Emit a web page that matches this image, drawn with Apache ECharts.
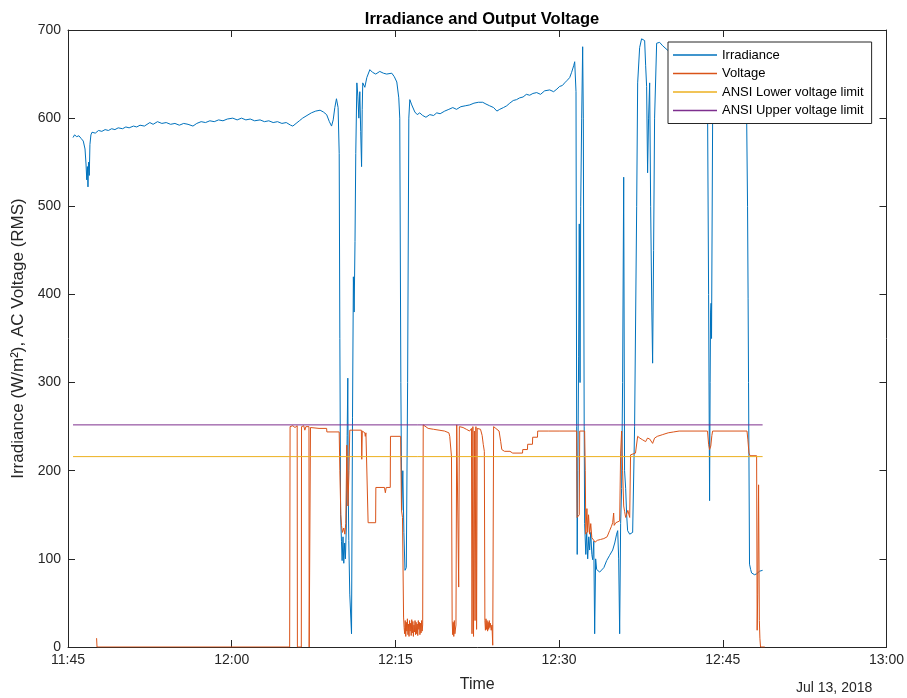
<!DOCTYPE html>
<html>
<head>
<meta charset="utf-8">
<script src="https://cdn.jsdelivr.net/npm/echarts@6/dist/echarts.min.js"></script>
<style>
html,body{margin:0;padding:0;background:#fff;}
#chart{width:907px;height:698px;}
</style>
</head>
<body>
<div id="chart"></div>
<script>
// Minutes after 11:45 (Jul 13, 2018)
const xTickLabels = ['11:45','12:00','12:15','12:30','12:45','13:00'];
const yTicks = [0,100,200,300,400,500,600,700];

const irrMinutes = [
0.46,0.60,0.80,1.00,1.20,1.40,1.56,1.65,1.72,1.78,1.83,1.88,1.95,2.01,2.10,2.20,2.50,2.80,3.10,3.40,
3.70,4.00,4.30,4.60,5.00,5.30,5.60,6.00,6.30,6.60,7.00,7.50,7.80,8.20,8.60,9.00,9.40,9.80,10.20,10.60,
11.00,11.45,11.80,12.20,12.60,13.00,13.40,13.80,14.20,14.60,15.10,15.50,15.90,16.30,16.70,17.10,17.60,18.00,18.40,18.80,
19.20,19.60,20.00,20.40,20.60,20.90,21.20,21.50,21.90,22.30,22.70,23.10,23.40,23.70,23.95,24.15,24.30,24.45,24.60,24.75,
24.85,24.91,24.98,25.06,25.12,25.20,25.27,25.35,25.42,25.50,25.58,25.64,25.68,25.73,25.82,25.98,26.07,26.15,26.22,26.30,
26.37,26.47,26.56,26.65,26.74,26.82,26.90,26.96,27.01,27.20,27.38,27.66,27.90,28.20,28.57,28.90,29.20,29.67,29.90,30.13,
30.31,30.40,30.50,30.58,30.68,30.78,30.88,31.00,31.12,31.23,31.32,31.50,31.78,32.00,32.23,32.50,32.80,33.15,33.50,33.79,
34.10,34.52,34.90,35.26,35.60,36.00,36.40,36.81,37.20,37.60,38.00,38.30,38.64,39.00,39.30,39.56,39.90,40.20,40.48,40.80,
41.10,41.39,41.70,42.00,42.31,42.60,42.95,43.30,43.68,44.14,44.50,44.80,45.05,45.30,45.51,45.75,45.97,46.15,46.35,46.43,
46.55,46.61,46.66,46.72,46.79,46.85,46.92,46.98,47.07,47.16,47.22,47.30,47.34,47.45,47.53,47.62,47.72,47.80,47.90,48.00,
48.08,48.18,48.26,48.35,48.44,48.60,48.72,48.90,49.10,49.36,49.63,49.91,50.10,50.27,50.37,50.46,50.55,50.64,50.73,50.82,
50.92,51.00,51.10,51.19,51.28,51.47,51.65,51.74,51.92,52.11,52.20,52.38,52.56,52.66,52.84,52.93,53.02,53.11,53.20,53.30,
53.39,53.50,53.57,53.66,53.75,53.94,54.21,54.50,54.95,55.50,56.00,56.50,57.00,57.50,58.00,58.42,58.61,58.70,58.79,58.84,
58.88,58.93,58.97,59.07,59.25,59.60,60.00,60.50,61.00,61.50,62.00,62.18,62.27,62.32,62.36,62.45,62.55,62.64,62.80,62.91,
63.10,63.19,63.37,63.55,63.65
];
const irrValues = [
578,581,579,580,577,574,565,548,530,545,522,550,535,570,581,584,583,586,585,587,
586,588,587,589,588,590,589,591,590,592,591,595,593,596,594,595,593,594,592,594,
593,591,594,596,595,597,596,598,597,599,600,598,600,598,599,597,598,596,597,595,
596,594,595,592,591,594,597,600,603,606,608,609,607,604,596,591,598,612,622,612,
560,350,150,120,98,125,95,118,100,135,240,305,180,121,60,15,260,420,380,460,
560,640,625,600,630,585,545,610,640,635,646,655,652,650,653,651,650,651,647,641,
623,600,300,155,200,130,87,90,300,600,621,615,607,604,606,603,601,604,603,606,
605,608,610,612,610,613,614,615,617,618,618,616,614,612,608,610,612,614,617,620,
621,623,624,627,626,628,629,627,631,632,630,633,636,637,640,643,646,652,660,664,
630,250,105,200,330,480,300,500,600,681,600,250,140,105,130,100,125,110,130,105,
99,120,15,100,88,86,85,86,90,98,104,110,118,128,132,100,15,140,180,300,
533,200,180,150,132,128,126,130,250,500,640,680,690,692,688,660,636,538,600,640,
500,380,322,450,600,685,686,682,677,672,670,667,665,662,660,650,600,400,166,300,
380,390,350,600,640,645,646,648,650,648,640,610,500,395,300,94,88,84,83,82,
83,85,86,88,87
];

const voltMinutes = [
2.62,2.66,20.31,20.35,20.60,20.80,21.00,21.02,21.38,21.40,21.60,21.70,21.80,22.08,22.10,22.20,22.22,23.00,23.70,23.72,
24.85,24.91,25.00,25.06,25.15,25.27,25.37,25.45,25.55,25.60,25.65,25.75,25.82,26.88,26.92,26.97,27.20,27.24,27.30,27.48,
27.50,28.19,28.21,29.00,29.08,29.16,29.53,29.55,30.48,30.56,30.65,30.75,30.80,30.85,30.90,30.95,31.00,31.05,31.10,31.15,
31.20,31.25,31.30,31.35,31.40,31.45,31.50,31.55,31.60,31.65,31.70,31.75,31.80,31.85,31.90,31.95,32.00,32.05,32.10,32.15,
32.20,32.25,32.30,32.35,32.40,32.45,32.50,32.55,33.00,33.50,34.00,34.50,34.90,34.98,35.14,35.20,35.25,35.30,35.35,35.40,
35.45,35.55,35.62,35.75,35.80,35.86,36.20,36.50,36.80,36.90,36.97,37.02,37.10,37.16,37.24,37.30,37.38,37.44,37.50,37.60,
37.80,37.95,38.05,38.15,38.20,38.25,38.30,38.35,38.40,38.45,38.50,38.55,38.60,38.65,38.70,38.78,38.85,38.92,39.00,39.20,
39.50,39.65,39.75,40.00,40.50,40.75,41.65,41.67,42.10,42.12,42.56,42.58,43.02,43.04,44.00,45.00,46.00,46.61,46.65,46.85,
46.89,47.34,47.40,47.45,47.55,47.62,47.70,47.80,47.90,48.00,48.08,48.30,48.50,48.80,49.10,49.40,49.63,49.80,49.91,50.00,
50.05,50.20,50.35,50.55,50.64,50.73,50.82,50.92,51.00,51.10,51.30,51.47,51.55,51.65,52.00,52.20,52.40,52.66,52.93,53.10,
53.30,53.57,53.75,54.00,54.50,55.00,55.50,56.00,58.60,58.70,58.79,58.90,59.00,59.07,62.22,62.30,62.40,62.50,63.10,63.15,
63.20,63.28,63.35,63.40,63.46,63.85
];
const voltValues = [
10,0,0,250,251,249,251,0,0,250,251,246,250,250,0,0,249,248,248,244,
244,200,150,138,130,135,128,140,229,230,160,200,246,246,213,245,243,239,243,243,
141,141,181,181,175,181,181,239,239,155,147,34,22,15,30,12,28,18,32,14,
26,12,30,18,27,13,31,16,29,12,25,17,30,14,28,15,26,13,30,20,
28,14,27,16,30,18,25,252,248,247,246,245,243,239,216,30,14,28,12,30,
15,25,252,250,68,250,249,247,245,243,248,15,250,12,245,30,250,20,248,249,
247,240,230,222,30,19,32,20,30,18,28,20,30,22,27,19,25,2,250,248,
245,233,224,222,222,220,220,224,224,230,230,238,238,245,245,245,245,245,147,150,
245,245,200,128,157,130,150,128,140,124,122,119,121,122,123,125,132,137,141,152,
138,141,143,143,220,245,200,160,154,147,155,147,218,220,220,239,237,235,233,237,
236,231,237,239,241,243,244,245,245,230,224,228,240,245,245,235,220,217,217,19,
60,184,30,10,0,0
];

const limitMinutes = [0.46, 63.65];
const lowerLimit = [216, 216];
const upperLimit = [252, 252];

function pairs(xs, ys){ return xs.map((x,i)=>[x, ys[i]]); }

const FONT = "'Liberation Sans', Arial, Helvetica, sans-serif";
const AX = '#262626';

const chart = echarts.init(document.getElementById('chart'), null, {renderer:'canvas'});

const baseX = {
  type:'value', min:0, max:75, interval:15,
  axisLine:{show:true, onZero:false, lineStyle:{color:AX, width:1}},
  axisTick:{show:true, inside:true, length:7, lineStyle:{color:AX}},
  splitLine:{show:false}
};
const baseY = {
  type:'value', min:0, max:700, interval:100,
  axisLine:{show:true, onZero:false, lineStyle:{color:AX, width:1}},
  axisTick:{show:true, inside:true, length:7, lineStyle:{color:AX}},
  splitLine:{show:false}
};

const lineSeries = (name, data, color) => ({
  name, type:'line', data, showSymbol:false, symbol:'none',
  lineStyle:{color, width:1}, itemStyle:{color},
  animation:false, sampling:null, z:2
});

chart.setOption({
  backgroundColor:'#fff',
  animation:false,
  title:{
    text:'Irradiance and Output Voltage',
    left:477, top:6, textAlign:'center',
    textStyle:{fontFamily:FONT, fontSize:16.5, fontWeight:'bold', color:'#000'}
  },
  grid:{left:68, right:20, top:30, bottom:48, containLabel:false},
  xAxis:[
    Object.assign({}, baseX, {
      position:'bottom',
      name:'Time', nameLocation:'middle', nameGap:30,
      nameTextStyle:{fontFamily:FONT, fontSize:16, color:AX},
      axisLabel:{show:true, margin:6, fontFamily:FONT, fontSize:14, color:AX,
        formatter:(v)=> xTickLabels[Math.round(v/15)]}
    }),
    Object.assign({}, baseX, {position:'top', axisLabel:{show:false}})
  ],
  yAxis:[
    Object.assign({}, baseY, {
      position:'left',
      name:'Irradiance (W/m²), AC Voltage (RMS)', nameLocation:'middle', nameGap:37, nameRotate:90,
      nameTextStyle:{fontFamily:FONT, fontSize:17, color:AX},
      axisLabel:{show:true, margin:7, fontFamily:FONT, fontSize:14, color:AX,
        formatter:(v)=> String(yTicks[Math.round(v/100)])}
    }),
    Object.assign({}, baseY, {position:'right', axisLabel:{show:false}})
  ],
  legend:{
    orient:'vertical', left:668, top:42,
    backgroundColor:'#fff', borderColor:AX, borderWidth:1, borderRadius:0,
    padding:[6,8,6,5], itemGap:4.5, itemWidth:44, itemHeight:1.5, icon:'rect',
    textStyle:{fontFamily:FONT, fontSize:13, color:'#000', lineHeight:14},
    data:[
      {name:'Irradiance', itemStyle:{color:'#0072BD'}},
      {name:'Voltage', itemStyle:{color:'#D95319'}},
      {name:'ANSI Lower voltage limit', itemStyle:{color:'#EDB120'}},
      {name:'ANSI Upper voltage limit', itemStyle:{color:'#7E2F8E'}}
    ],
    selectedMode:false
  },
  graphic:[{
    type:'text', left:796, top:681,
    style:{text:'Jul 13, 2018', font:"14px 'Liberation Sans', Arial, sans-serif", fill:AX}
  }],
  series:[
    lineSeries('Irradiance', pairs(irrMinutes, irrValues), '#0072BD'),
    lineSeries('Voltage', pairs(voltMinutes, voltValues), '#D95319'),
    lineSeries('ANSI Lower voltage limit', pairs(limitMinutes, lowerLimit), '#EDB120'),
    lineSeries('ANSI Upper voltage limit', pairs(limitMinutes, upperLimit), '#7E2F8E')
  ]
});
</script>
</body>
</html>
